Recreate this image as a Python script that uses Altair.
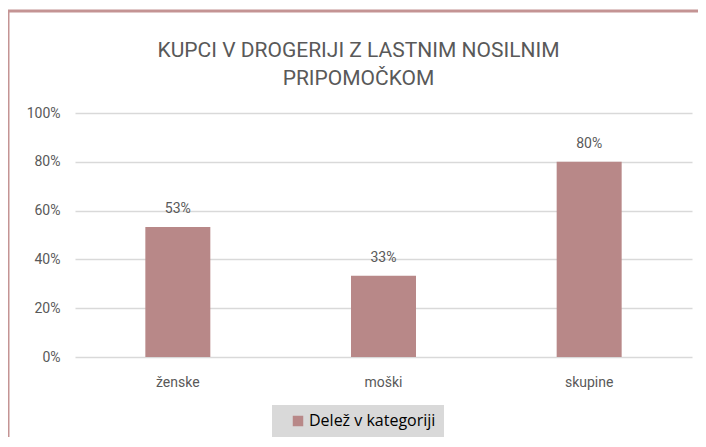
import altair as alt
import pandas as pd

categories = ["ženske", "moški", "skupine"]
values = [0.533, 0.333, 0.80]
labels = ["53%", "33%", "80%"]
series = ["Delež v kategoriji"] * 3

df = pd.DataFrame({"kategorija": categories, "delez": values, "oznaka": labels, "serija": series})

BAR = "#b88888"
FONT = "Roboto"

W, H = 617, 244
PL, PT = 67, 105  # padding so plot origin is at (75, 113) on page

base = alt.Chart(df)

frame = base.mark_rect(fill=None, stroke="#c49494", strokeWidth=3).encode(
    x=alt.value(8 - 75), x2=alt.value(W + 40), y=alt.value(11 - 113), y2=alt.value(H + 120)
).transform_filter(alt.datum.kategorija == "ženske")

bars = base.mark_bar(color=BAR).encode(
    x=alt.X("kategorija:N", sort=categories, title=None,
            scale=alt.Scale(paddingInner=0.684, paddingOuter=0.342),
            axis=alt.Axis(labelAngle=0, labelFont=FONT, labelFontSize=14, labelColor="#595959",
                          labelPadding=18, domain=False, ticks=False, grid=False)),
    y=alt.Y("delez:Q", title=None,
            scale=alt.Scale(domain=[0, 1], nice=False),
            axis=alt.Axis(values=[0, 0.2, 0.4, 0.6, 0.8, 1.0], format=".0%", labelFont=FONT,
                          labelFontSize=14, labelColor="#595959", labelPadding=15,
                          domain=False, ticks=False, gridColor="#d9d9d9", gridWidth=1.5)),
    color=alt.Color("serija:N", title=None,
                    scale=alt.Scale(range=[BAR]),
                    legend=alt.Legend(orient="none", legendX=197, legendY=292,
                                      fillColor="#d9d9d9", padding=8, symbolType="square",
                                      symbolSize=110, symbolStrokeWidth=0, labelFont="Open Sans",
                                      labelFontSize=16, labelColor="#000000", labelLimit=300,
                                      symbolOffset=10, labelOffset=3)),
)

text = base.mark_text(baseline="bottom", dy=-11, font=FONT, fontSize=14, color="#595959").encode(
    x=alt.X("kategorija:N", sort=categories),
    y=alt.Y("delez:Q"),
    text="oznaka:N",
)

chart = alt.layer(frame, bars, text).properties(
    width=W, height=H,
    padding={"left": PL, "top": PT, "right": 6, "bottom": 80},
    autosize=alt.AutoSizeParams(type="none"),
    title=alt.TitleParams(["KUPCI V DROGERIJI Z LASTNIM NOSILNIM", "PRIPOMOČKOM"],
                          font=FONT, fontSize=21, fontWeight="normal", color="#595959",
                          anchor="middle", frame="group", dx=-25, offset=-79, lineHeight=28),
).configure_view(stroke=None)

chart.save("out.html", embed_options={"renderer": "svg", "actions": False})
